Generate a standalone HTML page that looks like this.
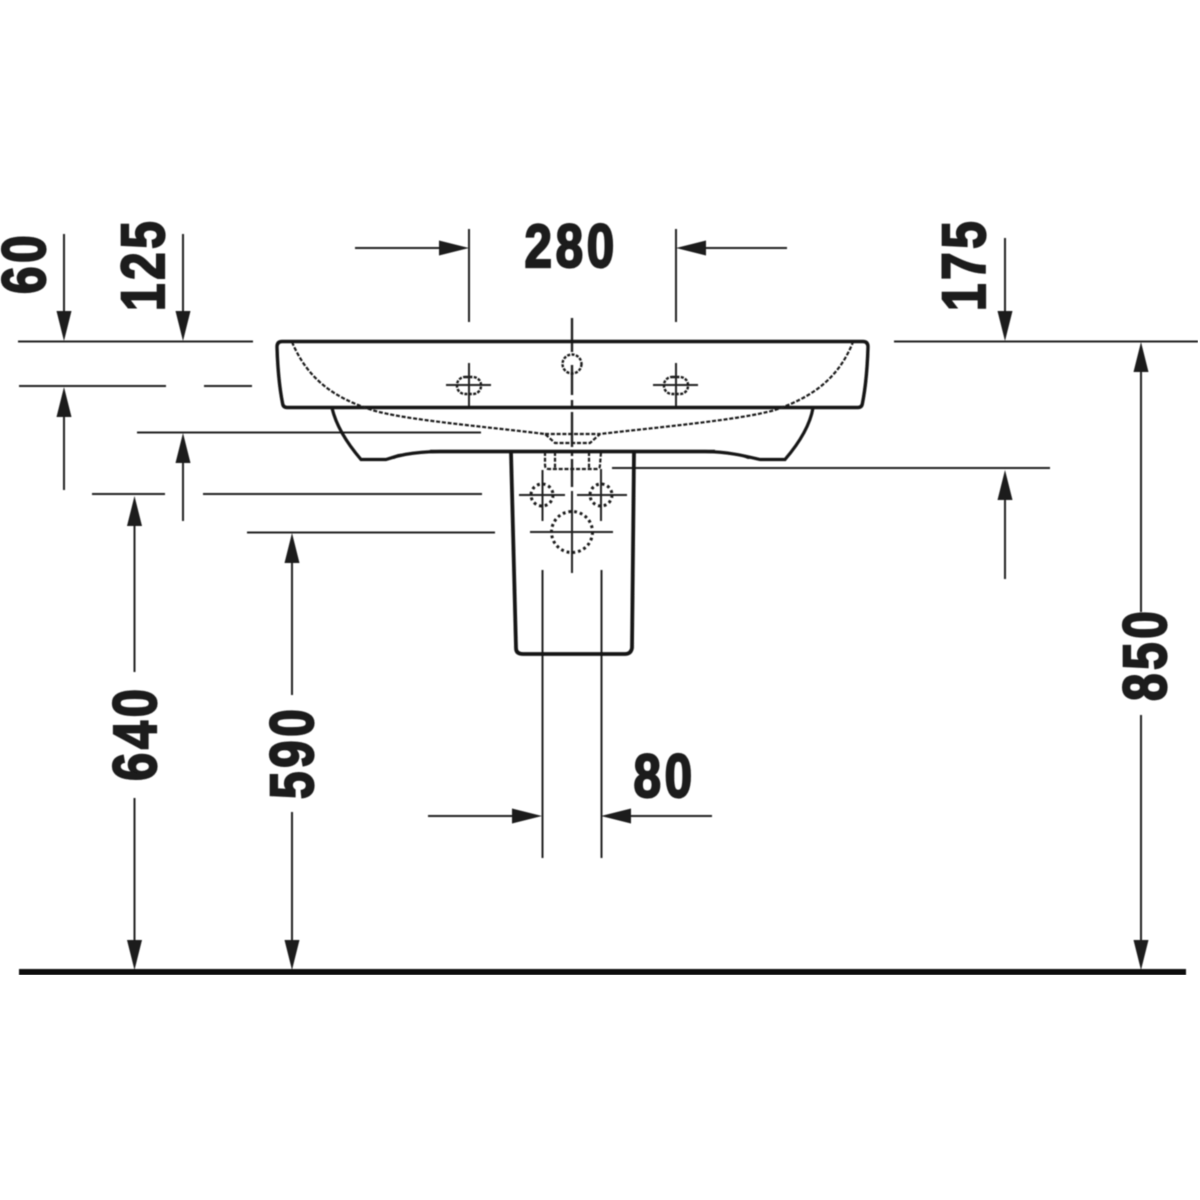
<!DOCTYPE html>
<html><head><meta charset="utf-8"><style>
html,body{margin:0;padding:0;background:#fff}
svg{display:block}
text{font-family:"Liberation Sans",sans-serif;font-weight:bold;font-size:61px;letter-spacing:4.500px;fill:#1a1a1a;stroke:#1a1a1a;stroke-width:2.200px}
</style></head><body>
<svg width="1200" height="1200" viewBox="0 0 1200 1200" xmlns="http://www.w3.org/2000/svg">
<defs>
<filter id="b" x="0" y="0" width="100%" height="100%"><feGaussianBlur stdDeviation="0.45"/></filter>
</defs>
<g filter="url(#b)">
<!-- dimension / extension lines -->
<g stroke="#222" stroke-width="2" fill="none">
<path d="M18 341.500H253M19 386H166M204 386H252M137 432.500H481M92 494H165M203 494H482M247 532.500H495"/>
<path d="M894 341.500H1198M612 468H1050"/>
<path d="M64 234V312M64 415V490M183 234V312M183 462V521M134.500 525V672M134.500 798V942M292 562V695M292 812V942"/>
<path d="M1005 238V312M1005 499V579M1141 371V612M1141 715V942"/>
<path d="M355 248H441M787 248H705M469 229V322M676 229V322"/>
<path d="M542.500 570V858M601.500 570V858M428 816H514M712 816H630"/>
<!-- hole crosses -->
<path d="M446 385H491M469 363V407M653 385H698M676 363V407"/>
<path d="M519 495H565M542.500 470V521M577 495H627M601 469V521M530 532H613M572 491V573"/>
<path d="M572 318V352M572 365V395M572 400V406M572 412V447M572 452V456M572 459V487" stroke-width="2.400"/>
</g>
<!-- arrowheads -->
<g fill="#1a1a1a">
<path d="M64 341L56.500 311H71.500Z"/><path d="M183 341L175.500 311H190.500Z"/><path d="M1005 341L997.500 311H1012.500Z"/>
<path d="M64 387L56.500 417H71.500Z"/><path d="M183 433L175.500 463H190.500Z"/><path d="M134.500 496L127 526H142Z"/>
<path d="M292 533L284.500 563H299.500Z"/><path d="M1005 470L997.500 500H1012.500Z"/><path d="M1141 342L1133.500 372H1148.500Z"/>
<path d="M134.500 970L127 940H142Z"/><path d="M292 970L284.500 940H299.500Z"/><path d="M1141 970L1133.500 940H1148.500Z"/>
<path d="M469 248L439 240.500V255.500Z"/><path d="M676 248L706 240.500V255.500Z"/>
<path d="M542 816L512 808.500V823.500Z"/><path d="M601 816L631 808.500V823.500Z"/>
</g>
<!-- basin -->
<g fill="none" stroke="#141414">
<path d="M282 341.500H863Q868 341.500 868 347Q867 380 862.500 403Q862 407.500 858 407.500H287Q283 407.500 282.500 403Q278 380 277 347Q277 341.500 282 341.500Z" stroke-width="3.400"/>
<path d="M332 408C336 425 346 442 361 459.500H386C396 456 410 452 440 451.500H705C730 452 745 456 760 459.500H785C800 442 810 425 813 408" stroke-width="3.200"/>
<path d="M385 459L398 454 408 453 394 459ZM755 458L742 454 732 453 748 459Z" fill="#141414" stroke="none"/>
<path d="M430 451.500H715" stroke-width="3.400"/>
<path d="M511 452L516 648Q516 654 523 654H625Q631 654 632 648L634 452" stroke-width="3.800"/>
</g>
<!-- dashed -->
<g fill="none" stroke="#1a1a1a" stroke-width="2.200" stroke-dasharray="4 1.800">
<path d="M292 342C308 380 335 398 372 410C405 420 480 426 545 434L555 443H590L600 434C660 427 740 420 775 410C810 398 838 380 853 342"/>
<path d="M545 434H600"/>
<path d="M545 452V465Q545 469 549 469H597Q600 469 600 465L601 452M555 452V468M589 452V468"/>
</g>
<g fill="none" stroke="#1a1a1a" stroke-width="2.400" stroke-dasharray="3 1.400">
<rect x="457" y="377" width="24" height="17" rx="8"/>
<rect x="664" y="377" width="24" height="17" rx="8"/>
<circle cx="572" cy="364" r="9.500"/>
</g>
<g fill="none" stroke="#1a1a1a" stroke-width="3" stroke-dasharray="2.800 3">
<circle cx="542" cy="495" r="11"/><circle cx="601" cy="495" r="11"/><circle cx="572" cy="532" r="20.500"/>
</g>
<!-- ground -->
<rect x="19" y="969" width="1167" height="6" fill="#111"/>
<!-- labels -->
<text transform="translate(524.500,267) scale(0.81,1)">280</text>
<text transform="translate(633.500,797) scale(0.81,1)">80</text>
<text transform="translate(45,294) rotate(-90) scale(0.81,1)">60</text>
<text transform="translate(164,311) rotate(-90) scale(0.81,1)">125</text>
<text transform="translate(985,311) rotate(-90) scale(0.81,1)">175</text>
<text transform="translate(156,781) rotate(-90) scale(0.83,1)">640</text>
<text transform="translate(313,799) rotate(-90) scale(0.81,1)">590</text>
<text transform="translate(1166,701) rotate(-90) scale(0.81,1)">850</text>
</g>
</svg>
</body></html>
